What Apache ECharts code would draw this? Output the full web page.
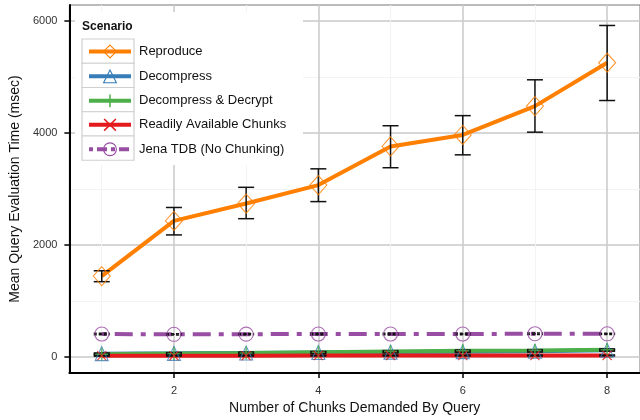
<!DOCTYPE html>
<html>
<head>
<meta charset="utf-8">
<script src="https://cdn.jsdelivr.net/npm/echarts@6/dist/echarts.min.js"></script>
<style>
  html, body { margin: 0; padding: 0; background: #ffffff; }
  #chart { width: 640px; height: 420px; }
</style>
</head>
<body>
<div id="chart"></div>
<script>
// Number of chunks demanded by a query
const chunks = [1, 2, 3, 4, 5, 6, 7, 8];

// Mean query evaluation time (msec) per scenario, with error bar bounds
const reproduce      = [1445, 2430, 2740, 3070, 3760, 3965, 4480, 5255];
const reproduceLow   = [1345, 2180, 2470, 2775, 3380, 3610, 4015, 4580];
const reproduceHigh  = [1540, 2670, 3030, 3360, 4130, 4310, 4950, 5920];

const decompress     = [60, 65, 72, 80, 88, 95, 102, 120];
const decompressLow  = [48, 52, 60, 66, 74, 80, 88, 104];
const decompressHigh = [72, 78, 84, 94, 102, 110, 116, 136];

const decrypt        = [50, 62, 72, 86, 100, 110, 118, 130];
const decryptLow     = [40, 50, 60, 74, 86, 96, 104, 116];
const decryptHigh    = [60, 74, 84, 98, 114, 124, 132, 144];

const readily        = [22, 24, 24, 26, 26, 27, 27, 28];
const readilyLow     = [14, 16, 16, 18, 18, 19, 19, 20];
const readilyHigh    = [30, 32, 32, 34, 34, 35, 35, 36];

const jena           = [410, 405, 408, 410, 410, 410, 416, 414];
const jenaLow        = [398, 393, 396, 398, 398, 398, 404, 402];
const jenaHigh       = [422, 417, 420, 422, 422, 422, 428, 426];

// Tick labels
const xMajorTicks = [2, 4, 6, 8];
const xMinorTicks = [1, 3, 5, 7];
const yMajorTicks = [0, 2000, 4000, 6000];
const yMinorTicks = [1000, 3000, 5000];

const scenarioNames = [
  'Reproduce',
  'Decompress',
  'Decompress & Decrypt',
  'Readily Available Chunks',
  'Jena TDB (No Chunking)'
];

const PLUS = 'path://M4.4,0H5.6V4.4H10V5.6H5.6V10H4.4V5.6H0V4.4H4.4Z';
const CROSS = 'path://M0,0.85L0.85,0L10,9.15L9.15,10Z M9.15,0L10,0.85L0.85,10L0,9.15Z';

const scenarios = [
  { name: scenarioNames[0], values: reproduce, low: reproduceLow, high: reproduceHigh,
    color: '#ff7f00', symbol: 'diamond', size: [17, 19], hollow: true, dash: 'solid', barDash: null },
  { name: scenarioNames[1], values: decompress, low: decompressLow, high: decompressHigh,
    color: '#377eb8', symbol: 'triangle', size: [13, 14], hollow: true, dash: 'solid', barDash: null },
  { name: scenarioNames[2], values: decrypt, low: decryptLow, high: decryptHigh,
    color: '#4daf4a', symbol: PLUS, size: 13, hollow: false, dash: 'solid', barDash: null },
  { name: scenarioNames[3], values: readily, low: readilyLow, high: readilyHigh,
    color: '#e41a1c', symbol: CROSS, size: 10, hollow: false, dash: 'solid', barDash: null },
  { name: scenarioNames[4], values: jena, low: jenaLow, high: jenaHigh,
    color: '#984ea3', symbol: 'circle', size: 14, hollow: true, dash: [5, 8, 18, 8], barDash: [3, 2] }
];

const FONT = 'Liberation Sans, Arial, Helvetica, sans-serif';

function pointStyle(s) {
  return s.hollow
    ? { color: 'rgba(0,0,0,0)', borderColor: s.color, borderWidth: 1.1 }
    : { color: s.color, borderWidth: 0 };
}

const series = [];

// Lines first
scenarios.forEach(function (s) {
  series.push({
    type: 'line',
    name: s.name,
    data: chunks.map(function (c, i) { return [c, s.values[i]]; }),
    symbol: s.symbol,
    showSymbol: false,
    lineStyle: { color: s.color, width: 4, type: s.dash },
    itemStyle: pointStyle(s),
    z: 2,
    silent: true,
    animation: false
  });
});

// Error bars
scenarios.forEach(function (s) {
  series.push({
    type: 'custom',
    name: s.name + ' error',
    data: chunks.map(function (c, i) { return [c, s.low[i], s.high[i]]; }),
    encode: { x: 0, y: [1, 2] },
    z: 3,
    silent: true,
    animation: false,
    renderItem: function (params, api) {
      const lo = api.coord([api.value(0), api.value(1)]);
      const hi = api.coord([api.value(0), api.value(2)]);
      const hw = 8;
      const style = { stroke: '#111111', lineWidth: 1.5, fill: null };
      if (s.barDash) style.lineDash = s.barDash;
      return {
        type: 'group',
        children: [
          { type: 'line', shape: { x1: hi[0], y1: hi[1], x2: lo[0], y2: lo[1] }, style: style },
          { type: 'line', shape: { x1: hi[0] - hw, y1: hi[1], x2: hi[0] + hw, y2: hi[1] }, style: style },
          { type: 'line', shape: { x1: lo[0] - hw, y1: lo[1], x2: lo[0] + hw, y2: lo[1] }, style: style }
        ]
      };
    }
  });
});

// Points on top
scenarios.forEach(function (s) {
  series.push({
    type: 'scatter',
    name: s.name,
    data: chunks.map(function (c, i) { return [c, s.values[i]]; }),
    symbol: s.symbol,
    symbolSize: s.size,
    itemStyle: pointStyle(s),
    z: 4,
    silent: true,
    animation: false
  });
});

const legendData = scenarios.map(function (s) {
  return {
    name: s.name,
    itemStyle: pointStyle(s),
    lineStyle: { color: s.color, width: 4, type: s.dash === 'solid' ? 'solid' : [4, 4, 10, 4] }
  };
});

// Legend key boxes
const keyBoxes = scenarios.map(function (s, i) {
  return {
    type: 'rect',
    z: 7,
    shape: { x: 82, y: 39 + i * 24.25, width: 52, height: 24.25 },
    style: { fill: '#ffffff', stroke: '#cfcfcf', lineWidth: 1.2 }
  };
});

function plainNumber(v) { return String(v); }

const option = {
  backgroundColor: '#ffffff',
  animation: false,
  grid: {
    left: 68, top: 5, right: -1, bottom: 47,
    show: true, borderColor: '#777777', borderWidth: 1, backgroundColor: '#ffffff'
  },
  xAxis: [
    {
      type: 'value',
      min: 0.5517, max: 8.455,
      name: 'Number of Chunks Demanded By Query',
      nameLocation: 'middle', nameGap: 27,
      nameTextStyle: { fontFamily: FONT, fontSize: 14, color: '#111111' },
      axisLine: { show: true, onZero: false, lineStyle: { color: '#000000', width: 2 } },
      axisTick: { show: true, length: 5, customValues: xMajorTicks, lineStyle: { color: '#000000', width: 1.5 } },
      axisLabel: { customValues: xMajorTicks, formatter: plainNumber, margin: 12, fontFamily: FONT, fontSize: 11, color: '#333333' },
      splitLine: { show: true, lineStyle: { color: '#c8c8c8', width: 1.5 } }
    },
    {
      type: 'value',
      min: 0.5517, max: 8.455,
      position: 'bottom',
      axisLine: { show: false },
      axisTick: { show: false, customValues: xMinorTicks },
      axisLabel: { show: false, customValues: xMinorTicks },
      splitLine: { show: true, lineStyle: { color: '#f3f3f3', width: 1 } }
    }
  ],
  yAxis: [
    {
      type: 'value',
      min: -285.7, max: 6285.7,
      name: 'Mean Query Evaluation Time (msec)',
      nameLocation: 'middle', nameGap: 38,
      nameTextStyle: { fontFamily: FONT, fontSize: 14, color: '#111111' },
      axisLine: { show: true, onZero: false, lineStyle: { color: '#000000', width: 2 } },
      axisTick: { show: true, length: 5, customValues: yMajorTicks, lineStyle: { color: '#000000', width: 1.5 } },
      axisLabel: { customValues: yMajorTicks, formatter: plainNumber, margin: 12, fontFamily: FONT, fontSize: 11, color: '#333333' },
      splitLine: { show: true, lineStyle: { color: '#c8c8c8', width: 1.5 } }
    },
    {
      type: 'value',
      min: -285.7, max: 6285.7,
      position: 'left',
      axisLine: { show: false },
      axisTick: { show: false, customValues: yMinorTicks },
      axisLabel: { show: false, customValues: yMinorTicks },
      splitLine: { show: true, lineStyle: { color: '#f3f3f3', width: 1 } }
    }
  ],
  legend: {
    orient: 'vertical',
    left: 87, top: 44.5,
    padding: 0,
    itemWidth: 42, itemHeight: 16, itemGap: 11,
    selectedMode: false,
    z: 10,
    textStyle: { fontFamily: FONT, fontSize: 13, color: '#111111', padding: [0, 0, 0, 3] },
    data: legendData
  },
  graphic: {
    elements: [
      { type: 'rect', z: 6, shape: { x: 75, y: 12, width: 228, height: 153 }, style: { fill: '#ffffff' } },
      { type: 'text', z: 8, left: 82, top: 21,
        style: { text: 'Scenario', font: 'bold 12px ' + FONT, fill: '#111111' } }
    ].concat(keyBoxes)
  },
  series: series
};

const chart = echarts.init(document.getElementById('chart'), null, { renderer: 'canvas' });
chart.setOption(option);
</script>
</body>
</html>
